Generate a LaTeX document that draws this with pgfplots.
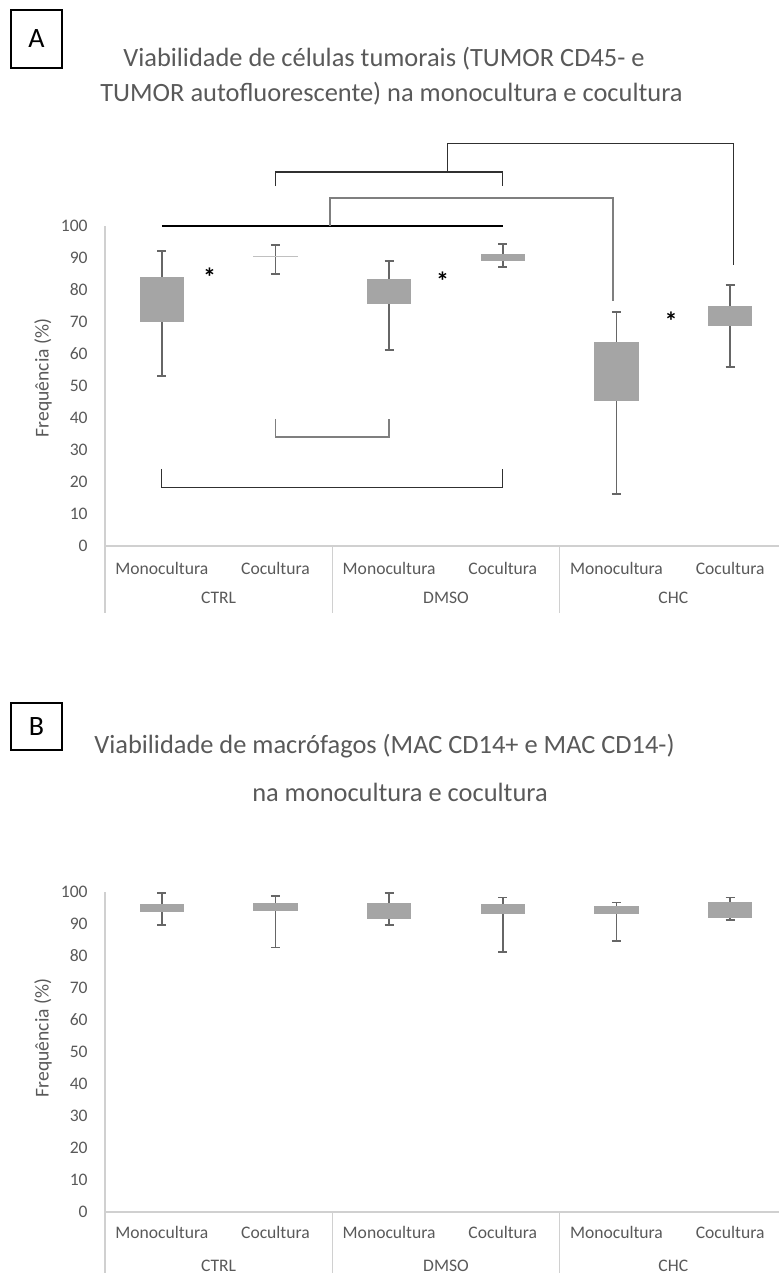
\documentclass[border=0pt]{standalone}
\usepackage{pgfplots}
\pgfplotsset{compat=1.18}
\usepgfplotslibrary{statistics}
\usepackage{fontspec}
\setmainfont{Carlito}
\definecolor{txt}{HTML}{595959}
\definecolor{axl}{HTML}{D0D0D0}
\definecolor{boxc}{HTML}{A5A5A5}
\definecolor{whk}{HTML}{666666}
\definecolor{brk}{HTML}{7F7F7F}
\definecolor{brkd}{HTML}{303030}
\newcommand{\tickfont}{\fontsize{8.8}{10}\selectfont}
\tikzset{ast/.style={font=\fontsize{13}{14}\selectfont\bfseries, text=black, anchor=base, yshift=-6pt, inner sep=0pt}}
\pgfplotsset{
  excelbox/.style={
    scale only axis, width=337pt, height=160pt, anchor=south west,
    xmin=-0.5, xmax=5.43, ymin=0, ymax=100, clip=false,
    axis line style={draw=none},
    xtick={0,...,5},
    xticklabels={Monocultura,Cocultura,Monocultura,Cocultura,Monocultura,Cocultura},
    ytick={0,10,...,100},
    major tick length=0pt, tick style={draw=none},
    /pgf/number format/assume math mode=true,
    yticklabel style={font=\tickfont, text=txt, anchor=east, inner sep=0pt, xshift=-8.5pt},
    boxplot/draw direction=y,
    boxplot/box extend=0.39, boxplot/whisker extend=0.08,
    boxplot/every box/.style={fill=boxc, draw=none},
    boxplot/every whisker/.style={draw=whk, line width=0.8pt},
    boxplot/every median/.style={draw=none},
  },
  bx/.style={draw=whk, line width=0.8pt},
}
\begin{document}
\begin{tikzpicture}
\useasboundingbox (0,0) rectangle (389.5pt,-636.5pt);
% ---------- Panel A ----------
\draw[line width=0.6pt] (5.5pt,-5pt) rectangle (31pt,-34pt);
\node[font=\fontsize{14}{16}\selectfont] at (18.25pt,-19.5pt) {A};
\node[font=\fontsize{13.2}{15}\selectfont, text=txt, anchor=base] at (192pt,-33.5pt) {Viabilidade de células tumorais (TUMOR CD45- e};
\node[font=\fontsize{13.2}{15}\selectfont, text=txt, anchor=base] at (195.75pt,-51pt) {TUMOR autofluorescente) na monocultura e cocultura};
\node[rotate=90, font=\fontsize{9.8}{12}\selectfont, text=txt] at (21.5pt,-189pt) {Frequência (\%)};
\begin{axis}[excelbox, at={(52.5pt,-273pt)},
  xticklabel style={font=\tickfont, text=txt, anchor=base, inner sep=0pt, yshift=-14pt}]
  \draw[axl, line width=0.75pt] (rel axis cs:0,1) -- ([yshift=-33.5pt]rel axis cs:0,0);
  \draw[axl, line width=0.75pt] (rel axis cs:0,0) -- (rel axis cs:1,0);
  \draw[axl, line width=0.75pt] (axis cs:1.5,0) -- ([yshift=-33.5pt]axis cs:1.5,0);
  \draw[axl, line width=0.75pt] (axis cs:3.5,0) -- ([yshift=-33.5pt]axis cs:3.5,0);
  \node[font=\tickfont, text=txt, anchor=base] at ([yshift=-28.5pt]axis cs:0.5,0) {CTRL};
  \node[font=\tickfont, text=txt, anchor=base] at ([yshift=-28.5pt]axis cs:2.5,0) {DMSO};
  \node[font=\tickfont, text=txt, anchor=base] at ([yshift=-28.5pt]axis cs:4.5,0) {CHC};
  \addplot[bx, boxplot prepared={draw position=0, lower whisker=53.1, lower quartile=70.0, median=77, upper quartile=84.1, upper whisker=92.2}] coordinates {};
  \addplot[bx, boxplot prepared={draw position=1, lower whisker=85.0, lower quartile=90.2, median=90.3, upper quartile=90.5, upper whisker=94.1}, boxplot/every box/.style={fill=boxc!70, draw=none}] coordinates {};
  \addplot[bx, boxplot prepared={draw position=2, lower whisker=61.3, lower quartile=75.6, median=79.5, upper quartile=83.4, upper whisker=89.1}] coordinates {};
  \addplot[bx, boxplot prepared={draw position=3, lower whisker=87.2, lower quartile=89.1, median=90.2, upper quartile=91.3, upper whisker=94.4}] coordinates {};
  \addplot[bx, boxplot prepared={draw position=4, lower whisker=16.3, lower quartile=45.3, median=54.5, upper quartile=63.8, upper whisker=73.1}] coordinates {};
  \addplot[bx, boxplot prepared={draw position=5, lower whisker=55.9, lower quartile=68.8, median=72, upper quartile=75.0, upper whisker=81.6}] coordinates {};
  % significance brackets
  \draw[black, line width=0.6pt] (axis cs:0,100) -- (axis cs:3,100);
  \draw[brk, line width=0.75pt] (axis cs:1.48,100) -- (axis cs:1.48,108.75) -- (axis cs:3.97,108.75) -- (axis cs:3.97,76.6);
  \draw[brkd, line width=0.6pt] (axis cs:1,112.5) -- (axis cs:1,116.9) -- (axis cs:3,116.9) -- (axis cs:3,112.5);
  \draw[brkd, line width=0.6pt] (axis cs:2.51,116.9) -- (axis cs:2.51,125.9) -- (axis cs:5.03,125.9) -- (axis cs:5.03,87.8);
  \draw[brk, line width=0.75pt] (axis cs:1,39.7) -- (axis cs:1,34.1) -- (axis cs:2,34.1) -- (axis cs:2,39.7);
  \draw[brkd, line width=0.6pt] (axis cs:0,24.1) -- (axis cs:0,18.4) -- (axis cs:3,18.4) -- (axis cs:3,24.1);
  \node[ast] at (axis cs:0.42,85) {*};
  \node[ast] at (axis cs:2.47,83.7) {*};
  \node[ast] at (axis cs:4.48,71.2) {*};
\end{axis}
% ---------- Panel B ----------
\draw[line width=0.6pt] (5.5pt,-351.5pt) rectangle (31pt,-375pt);
\node[font=\fontsize{14}{16}\selectfont] at (18.25pt,-363.25pt) {B};
\node[font=\fontsize{13.2}{15}\selectfont, text=txt, anchor=base] at (192.25pt,-376.85pt) {Viabilidade de macrófagos (MAC CD14+ e MAC CD14-)};
\node[font=\fontsize{13.2}{15}\selectfont, text=txt, anchor=base] at (200pt,-400.5pt) {na monocultura e cocultura};
\node[rotate=90, font=\fontsize{9.8}{12}\selectfont, text=txt] at (21.5pt,-519pt) {Frequência (\%)};
\begin{axis}[excelbox, at={(52.5pt,-606pt)},
  xticklabel style={font=\tickfont, text=txt, anchor=base, inner sep=0pt, yshift=-13pt}]
  \draw[axl, line width=0.75pt] (rel axis cs:0,1) -- ([yshift=-31pt]rel axis cs:0,0);
  \draw[axl, line width=0.75pt] (rel axis cs:0,0) -- (rel axis cs:1,0);
  \draw[axl, line width=0.75pt] (axis cs:1.5,0) -- ([yshift=-31pt]axis cs:1.5,0);
  \draw[axl, line width=0.75pt] (axis cs:3.5,0) -- ([yshift=-31pt]axis cs:3.5,0);
  \node[font=\tickfont, text=txt, anchor=base] at ([yshift=-29.5pt]axis cs:0.5,0) {CTRL};
  \node[font=\tickfont, text=txt, anchor=base] at ([yshift=-29.5pt]axis cs:2.5,0) {DMSO};
  \node[font=\tickfont, text=txt, anchor=base] at ([yshift=-29.5pt]axis cs:4.5,0) {CHC};
  \addplot[bx, boxplot prepared={draw position=0, lower whisker=89.7, lower quartile=93.6, median=95, upper quartile=96.2, upper whisker=99.6}] coordinates {};
  \addplot[bx, boxplot prepared={draw position=1, lower whisker=82.7, lower quartile=94.2, median=95.3, upper quartile=96.5, upper whisker=98.8}] coordinates {};
  \addplot[bx, boxplot prepared={draw position=2, lower whisker=89.7, lower quartile=91.7, median=94, upper quartile=96.5, upper whisker=99.6}] coordinates {};
  \addplot[bx, boxplot prepared={draw position=3, lower whisker=81.3, lower quartile=93.0, median=94.6, upper quartile=96.2, upper whisker=98.3}] coordinates {};
  \addplot[bx, boxplot prepared={draw position=4, lower whisker=84.7, lower quartile=93.0, median=94.3, upper quartile=95.6, upper whisker=96.7}] coordinates {};
  \addplot[bx, boxplot prepared={draw position=5, lower whisker=91.3, lower quartile=92.0, median=94.5, upper quartile=97.0, upper whisker=98.3}] coordinates {};
\end{axis}
\end{tikzpicture}
\end{document}
